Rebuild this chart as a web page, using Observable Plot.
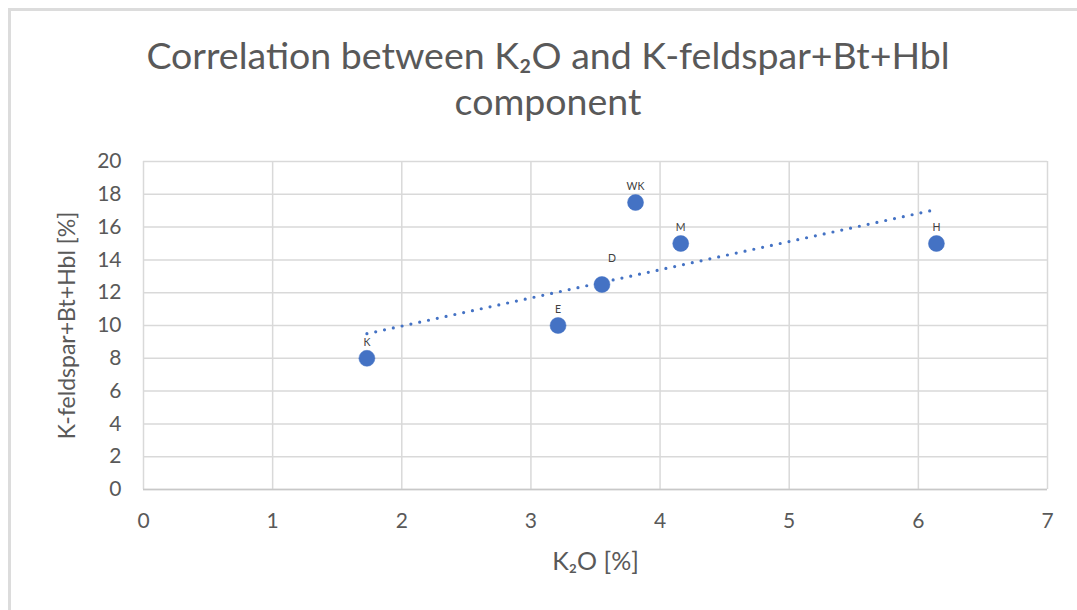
<!DOCTYPE html>
<html>
<head>
<meta charset="utf-8">
<script src="https://cdn.jsdelivr.net/npm/d3@7"></script>
<script src="https://cdn.jsdelivr.net/npm/@observablehq/plot@0.6"></script>
<style>
  html, body { margin: 0; padding: 0; background: #fff; width: 1077px; height: 610px; overflow: hidden; }
  body { position: relative; font-family: Lato, "Noto Sans", sans-serif; }
  #frame { position: absolute; left: 8px; top: 8px; width: 1200px; height: 700px;
           border-top: 3px solid #dcdcdc; border-left: 3px solid #dcdcdc; box-sizing: border-box; }
  #title { position: absolute; left: 0; top: 32px; width: 1096px; text-align: center;
           font-size: 37.5px; line-height: 46px; color: #595959; font-family: Lato, sans-serif; }
  #chart { position: absolute; left: 0; top: 140px; }
  #chart svg { overflow: visible; }
</style>
</head>
<body>
<div id="frame"></div>
<div id="title">Correlation between K₂O and K-feldspar+Bt+Hbl<br>component</div>
<div id="chart"></div>
<script>
const sites = ["K", "E", "D", "WK", "M", "H"];
const k2o = [1.73, 3.21, 3.55, 3.81, 4.16, 6.14];
const kfeld = [8, 10, 12.5, 17.5, 15, 15];
const xTicks = [0, 1, 2, 3, 4, 5, 6, 7];
const yTicks = [0, 2, 4, 6, 8, 10, 12, 14, 16, 18, 20];
const xLabel = "K₂O [%]";
const yLabel = "K-feldspar+Bt+Hbl [%]";

const data = sites.map((s, i) => ({site: s, x: k2o[i], y: kfeld[i]}));
const labelStyle = {x: "x", y: "y", text: "site", fontSize: 10.5, fill: "#404040"};

const plot = Plot.plot({
  width: 1077,
  height: 470,
  marginLeft: 143,
  marginRight: 30,
  marginTop: 21,
  marginBottom: 121,
  style: {fontFamily: "Lato, sans-serif", background: "transparent"},
  x: {domain: [0, 7]},
  y: {domain: [0, 20]},
  marks: [
    Plot.gridX(xTicks, {stroke: "#d9d9d9", strokeOpacity: 1, strokeWidth: 1.5}),
    Plot.gridY(yTicks, {stroke: "#d9d9d9", strokeOpacity: 1, strokeWidth: 1.5}),
    Plot.ruleY([0], {stroke: "#c8c8c8", strokeWidth: 1.5}),
    Plot.axisX(xTicks, {tickSize: 0, tickPadding: 24, fontSize: 21, fill: "#595959",
      tickFormat: d3.format("d"), label: null}),
    Plot.axisY(yTicks, {tickSize: 0, tickPadding: 22, fontSize: 21, fill: "#595959",
      tickFormat: d3.format("d"), label: null}),
    Plot.text([xLabel], {frameAnchor: "bottom", dy: 80, fontSize: 25, fill: "#595959"}),
    Plot.text([yLabel], {frameAnchor: "left", dx: -76, rotate: -90, textAnchor: "middle",
      fontSize: 23, fill: "#595959"}),
    Plot.linearRegressionY(data, {x: "x", y: "y", stroke: "#4472C4", strokeWidth: 3.2,
      strokeDasharray: "0,9", strokeLinecap: "round", ci: 0}),
    Plot.dot(data, {x: "x", y: "y", r: 8, fill: "#4472C4", stroke: "#4472C4", strokeWidth: 0.5}),
    Plot.text(data.filter(d => d.site !== "D"), {...labelStyle, dy: -16}),
    Plot.text(data.filter(d => d.site === "D"), {...labelStyle, dy: -26, dx: 10})
  ]
});
document.getElementById("chart").appendChild(plot);
</script>
</body>
</html>
